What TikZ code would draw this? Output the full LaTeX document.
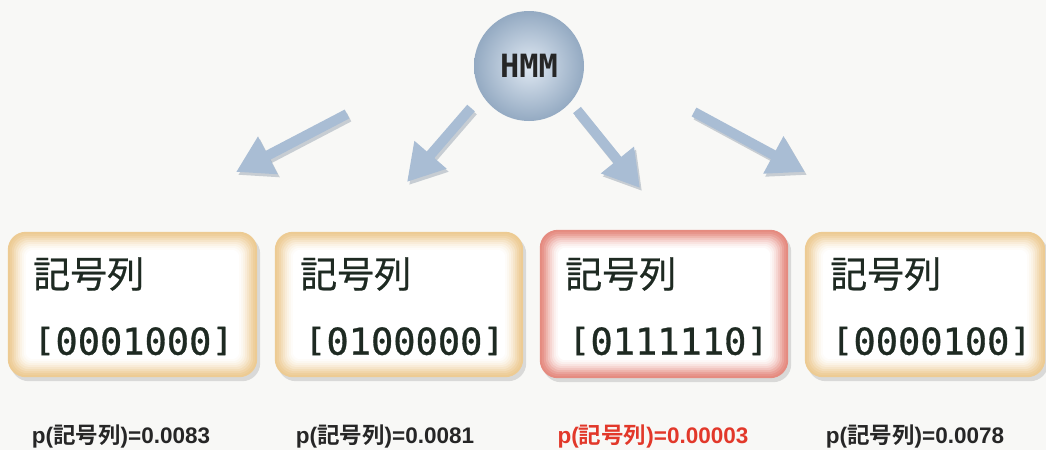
\documentclass[tikz,border=0pt]{standalone}
\usepackage{fontspec}
\usepackage{graphicx}
\usetikzlibrary{arrows.meta,shadings}
\newfontfamily\cjk[FakeBold=0.6]{Noto Sans CJK JP}
\newfontfamily\cjkb{Noto Sans CJK JP Bold}
\newfontfamily\monof[FakeBold=0.8]{DejaVu Sans Mono}
\newfontfamily\monob{DejaVu Sans Mono Bold}
\newfontfamily\labf{Liberation Sans Bold}
\definecolor{bg}{HTML}{F8F8F6}
\definecolor{tan}{HTML}{EDCB93}
\definecolor{salmon}{HTML}{E58B80}
\definecolor{arrowc}{HTML}{A9BDD4}
\definecolor{arrowd}{HTML}{6E7F93}
\definecolor{ballin}{HTML}{DFE8F2}
\definecolor{ballout}{HTML}{94AAC2}
\definecolor{txt}{HTML}{1E2A22}
\definecolor{redt}{HTML}{E2382A}
\newcommand{\lbr}{\raisebox{0.1em}{\scalebox{1}[0.86]{[}}}
\newcommand{\rbr}{\raisebox{0.1em}{\scalebox{1}[0.86]{]}}}
\tikzset{
  boxnode/.style={minimum height=145pt, inner sep=0pt},
  titletext/.style={anchor=west, inner sep=0pt, font=\cjk\fontsize{37}{40}\selectfont, text=txt},
  codetext/.style={anchor=west, inner sep=0pt, font=\monof\fontsize{37}{40}\selectfont, text=txt},
  probtext/.style={inner sep=0pt, font=\labf\fontsize{22.5}{26}\selectfont, text=black!85},
  bigarrow/.style={draw=arrowc, line width=10pt, -{Triangle[width=40pt,length=36pt]}, fill=arrowc},
  arrowshadow/.style={draw=arrowd, opacity=0.35, line width=10pt, -{Triangle[width=40pt,length=36pt]}, fill=arrowd},
}
\newcommand{\glowbox}[2]{%
  \fill[black, opacity=0.12, rounded corners=18pt] ([shift={(3,4)}]#1.north west) rectangle ([shift={(3,4)}]#1.south east);
  \foreach \i/\c in {0/100,2/92,4/80,6/65,8/50,10/36,12/24,14/14,16/6,18/0}{
    \pgfmathsetmacro{\rr}{max(18-\i*0.6,4)}
    \fill[#2!\c!white, rounded corners=\rr pt] ([shift={(\i,\i)}]#1.north west) rectangle ([shift={(-\i,-\i)}]#1.south east);
  }%
}
\begin{document}
\begin{tikzpicture}[x=1pt,y=-1pt]
\fill[bg] (0,0) rectangle (1046,450);
\useasboundingbox (0,0) rectangle (1046,450);

% HMM ball
\shade[inner color=ballin, outer color=ballout] (529,66) circle (55pt);
\node[circle, minimum size=110pt, inner sep=0pt] (hmm) at (529,66) {};
\node[font=\monob\fontsize{32}{34}\selectfont, text=black!85, inner sep=0pt] (hmmlabel) at (hmm.center) {HMM};

% arrow ends
\coordinate (t1) at (347,114); \coordinate (h1) at (236,172);
\coordinate (t2) at (471,108); \coordinate (h2) at (407,182);
\coordinate (t3) at (577,110); \coordinate (h3) at (640,188);
\coordinate (t4) at (694,112); \coordinate (h4) at (805,172);
\foreach \a in {1,2,3,4}{
  \draw[arrowshadow] ([shift={(2,3)}]t\a) -- ([shift={(2,3)}]h\a);
}
\foreach \a in {1,2,3,4}{
  \draw[bigarrow] (t\a) -- (h\a);
}

% boxes
\node[boxnode, minimum width=249pt] (b1) at (132.5,304.5) {};
\node[boxnode, minimum width=248pt] (b2) at (399,304.5) {};
\node[boxnode, minimum width=248pt, minimum height=148pt] (b3) at (664,304) {};
\node[boxnode, minimum width=240pt] (b4) at (925,304.5) {};
\glowbox{b1}{tan}
\glowbox{b2}{tan}
\glowbox{b3}{salmon}
\glowbox{b4}{tan}

\node[titletext] (s1) at (33,274) {記号列};
\node[codetext] (c1) at (33,341) {\lbr0001000\rbr};
\node[titletext] (s2) at (300,274) {記号列};
\node[codetext] (c2) at (304,341) {\lbr0100000\rbr};
\node[titletext] (s3) at (565,274) {記号列};
\node[codetext] (c3) at (568,341) {\lbr0111110\rbr};
\node[titletext] (s4) at (830,274) {記号列};
\node[codetext] (c4) at (831,341) {\lbr0000100\rbr};

% probabilities
\node[probtext] (p1) at (121,436) {p({\cjkb 記号列})=0.0083};
\node[probtext] (p2) at (385,436) {p({\cjkb 記号列})=0.0081};
\node[probtext, text=redt] (p3) at (653,436) {p({\cjkb 記号列})=0.00003};
\node[probtext] (p4) at (915,436) {p({\cjkb 記号列})=0.0078};
\end{tikzpicture}
\end{document}
